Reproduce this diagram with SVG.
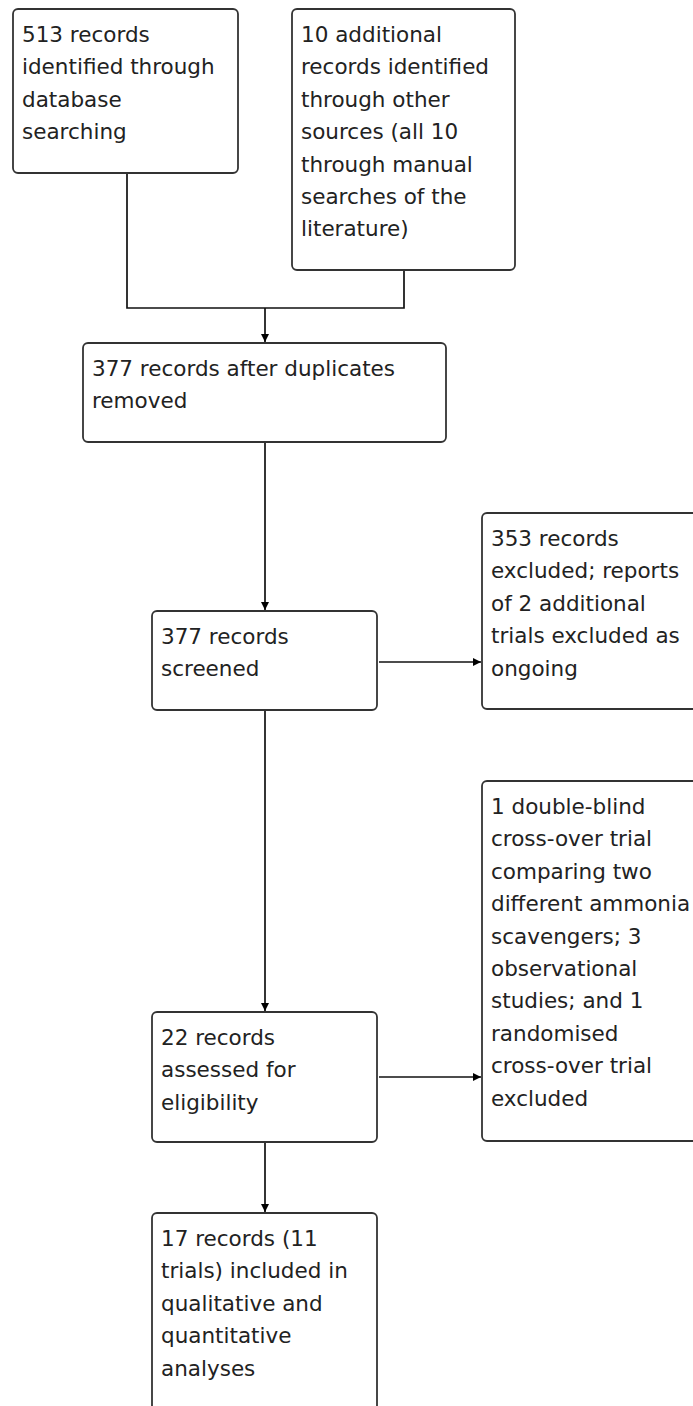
<svg xmlns="http://www.w3.org/2000/svg" width="693" height="1406" viewBox="0 0 693 1406">
<style>
.box{fill:#fff;stroke:#333;stroke-width:1.8}
.t{font-family:"DejaVu Sans",sans-serif;font-size:21.5px;fill:#222}
.c{fill:none;stroke:#111;stroke-width:1.7}
</style>
<defs>
<marker id="ah" markerWidth="9" markerHeight="9" refX="8" refY="4.5" orient="auto" markerUnits="userSpaceOnUse">
<path d="M0,0.5 L8,4.5 L0,8.5 Z" fill="#000"/>
</marker>
</defs>
<rect width="693" height="1406" fill="#fff"/>
<g id="connectors">
<polyline class="c" points="127,173 127,308 404,308 404,270"/>
<line class="c" x1="265" y1="308" x2="265" y2="342" marker-end="url(#ah)"/>
<line class="c" x1="265" y1="442" x2="265" y2="610" marker-end="url(#ah)"/>
<line class="c" x1="379" y1="662" x2="481" y2="662" marker-end="url(#ah)"/>
<line class="c" x1="265" y1="710" x2="265" y2="1011" marker-end="url(#ah)"/>
<line class="c" x1="379" y1="1077" x2="481" y2="1077" marker-end="url(#ah)"/>
<line class="c" x1="265" y1="1142" x2="265" y2="1212" marker-end="url(#ah)"/>
</g>
<g id="n1">
<rect class="box" x="13" y="9" width="225" height="164" rx="5"/>
<text class="t" x="22" y="42">513 records</text>
<text class="t" x="22" y="74.4">identified through</text>
<text class="t" x="22" y="106.8">database</text>
<text class="t" x="22" y="139.2">searching</text>
</g>
<g id="n2">
<rect class="box" x="292" y="9" width="223" height="261" rx="5"/>
<text class="t" x="301" y="42">10 additional</text>
<text class="t" x="301" y="74.4">records identified</text>
<text class="t" x="301" y="106.8">through other</text>
<text class="t" x="301" y="139.2">sources (all 10</text>
<text class="t" x="301" y="171.6">through manual</text>
<text class="t" x="301" y="204">searches of the</text>
<text class="t" x="301" y="236.4">literature)</text>
</g>
<g id="n3">
<rect class="box" x="83" y="343" width="363" height="99" rx="5"/>
<text class="t" x="92" y="376">377 records after duplicates</text>
<text class="t" x="92" y="408.4">removed</text>
</g>
<g id="n4">
<rect class="box" x="152" y="611" width="225" height="99" rx="5"/>
<text class="t" x="161" y="644">377 records</text>
<text class="t" x="161" y="676.4">screened</text>
</g>
<g id="n5">
<rect class="box" x="482" y="513" width="240" height="196" rx="5"/>
<text class="t" x="491" y="546">353 records</text>
<text class="t" x="491" y="578.4">excluded; reports</text>
<text class="t" x="491" y="610.8">of 2 additional</text>
<text class="t" x="491" y="643.2">trials excluded as</text>
<text class="t" x="491" y="675.6">ongoing</text>
</g>
<g id="n6">
<rect class="box" x="482" y="781" width="240" height="360" rx="5"/>
<text class="t" x="491" y="814">1 double-blind</text>
<text class="t" x="491" y="846.4">cross-over trial</text>
<text class="t" x="491" y="878.8">comparing two</text>
<text class="t" x="491" y="911.2">different ammonia</text>
<text class="t" x="491" y="943.6">scavengers; 3</text>
<text class="t" x="491" y="976">observational</text>
<text class="t" x="491" y="1008.4">studies; and 1</text>
<text class="t" x="491" y="1040.8">randomised</text>
<text class="t" x="491" y="1073.2">cross-over trial</text>
<text class="t" x="491" y="1105.6">excluded</text>
</g>
<g id="n7">
<rect class="box" x="152" y="1012" width="225" height="130" rx="5"/>
<text class="t" x="161" y="1045">22 records</text>
<text class="t" x="161" y="1077.4">assessed for</text>
<text class="t" x="161" y="1109.8">eligibility</text>
</g>
<g id="n8">
<rect class="box" x="152" y="1213" width="225" height="230" rx="5"/>
<text class="t" x="161" y="1246">17 records (11</text>
<text class="t" x="161" y="1278.4">trials) included in</text>
<text class="t" x="161" y="1310.8">qualitative and</text>
<text class="t" x="161" y="1343.2">quantitative</text>
<text class="t" x="161" y="1375.6">analyses</text>
</g>
</svg>
